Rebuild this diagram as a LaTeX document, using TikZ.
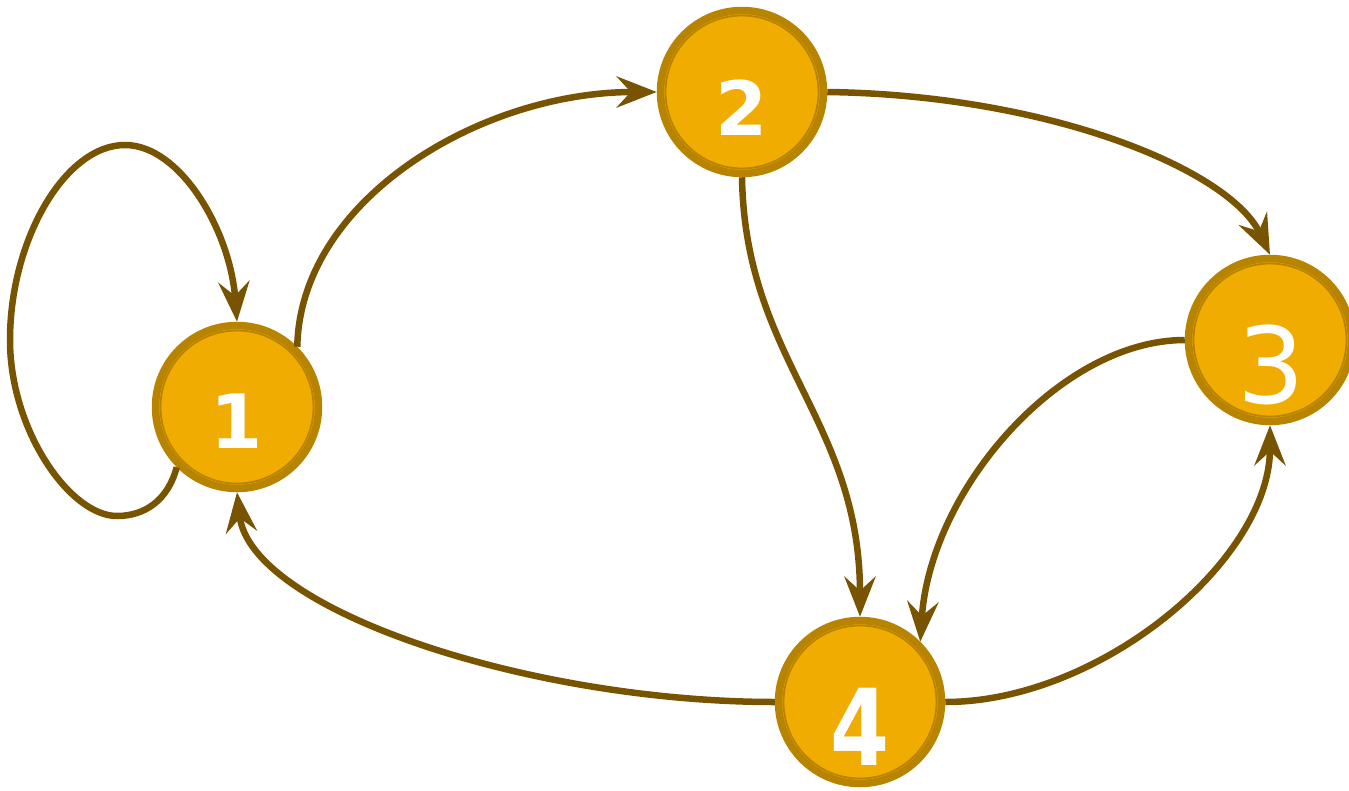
\documentclass[tikz,border=0pt]{standalone}
\usepackage{fontspec}
\setmainfont{DejaVu Sans}
\usetikzlibrary{arrows.meta}
\definecolor{edgebrown}{HTML}{785400}
\definecolor{nodefill}{HTML}{F0AC00}
\definecolor{noderim}{HTML}{B88400}
\begin{document}
\begin{tikzpicture}[x=1pt,y=-1pt,
  state/.style={circle,fill=nodefill,draw=noderim,line width=7.5pt,
    minimum size=163pt,inner sep=0pt},
  innerring/.style={draw=noderim,line width=1.8pt},
  numlabel/.style={text=white,anchor=base,inner sep=0pt},
  link/.style={draw=edgebrown,line width=6.5pt,
    -{Stealth[length=40pt,width=31pt,inset=14pt]}}]
\useasboundingbox (0,0) rectangle (1349,790);

% states
\node[state] (n1) at (237,407) {};
\node[state] (n2) at (742,92) {};
\node[state] (n3) at (1270,340) {};
\node[state] (n4) at (860,702) {};
\foreach \s in {n1,n2,n3,n4}
  \draw[innerring] (\s.center) circle[radius=76.5];

% state numbers
\node[numlabel,font=\bfseries\fontsize{75}{75}\selectfont] (t1) at (237,448) {1};
\node[numlabel,font=\bfseries\fontsize{75}{75}\selectfont] (t2) at (742,135) {2};
\node[numlabel,font=\fontsize{106}{106}\selectfont] (t3) at (1271,403) {3};
\node[numlabel,font=\bfseries\fontsize{106}{106}\selectfont,xscale=0.8] (t4) at (860,765) {4};

% transitions
\draw[link] (n1.225) .. controls (168,500) and (145,516) .. (117,516)
  .. controls (70,516) and (10,430) .. (10,340)
  .. controls (10,240) and (65,145) .. (125,145)
  .. controls (180,145) and (230,230) .. (n1.north);
\draw[link] (n1.45) .. controls (300,200) and (480,92) .. (n2.west);
\draw[link] (n2.east) .. controls (1050,95) and (1230,170) .. (n3.north);
\draw[link] (n2.south) .. controls (745,360) and (860,420) .. (n4.north);
\draw[link] (n3.west) .. controls (1060,340) and (930,490) .. (n4.45);
\draw[link] (n4.east) .. controls (1100,702) and (1270,560) .. (n3.south);
\draw[link] (n4.west) .. controls (530,702) and (250,610) .. (n1.south);
\end{tikzpicture}
\end{document}
